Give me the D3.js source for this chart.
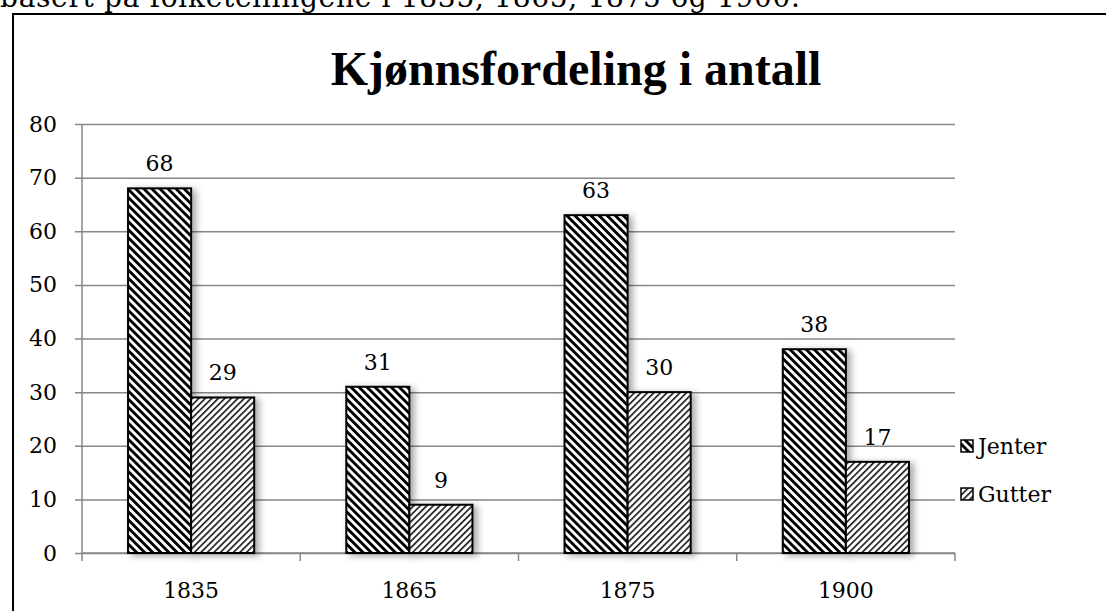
<!DOCTYPE html>
<html>
<head>
<meta charset="utf-8">
<script src="https://cdn.jsdelivr.net/npm/d3@7"></script>
<style>
  body { margin: 0; background: #fff; }
  text { font-family: "DejaVu Serif", "Liberation Serif", serif; fill: #000; }
</style>
</head>
<body>
<svg class="chart"></svg>
<script>
// data
const years = ['1835', '1865', '1875', '1900'];
const seriesNames = ['Jenter', 'Gutter'];
const jenter = [68, 31, 63, 38];
const gutter = [29, 9, 30, 17];
const yTicks = [0, 10, 20, 30, 40, 50, 60, 70, 80];

const width = 1106, height = 611;
const svg = d3.select('.chart')
  .attr('width', width)
  .attr('height', height);

const defs = svg.append('defs');

// striped fills
function stripes(id, angle, size, stroke, color) {
  const p = defs.append('pattern')
    .attr('id', id)
    .attr('patternUnits', 'userSpaceOnUse')
    .attr('width', size).attr('height', size)
    .attr('patternTransform', `rotate(${angle})`);
  p.append('rect').attr('width', size).attr('height', size).attr('fill', '#fff');
  p.append('rect').attr('width', stroke).attr('height', size).attr('fill', color);
}
stripes('pat-jenter', -45, 5.7, 2.9, '#000');
stripes('pat-gutter', 45, 4.6, 1.7, '#222');

const shadow = defs.append('filter').attr('id', 'shadow')
  .attr('x', '-20%').attr('y', '-20%').attr('width', '150%').attr('height', '150%');
shadow.append('feDropShadow')
  .attr('dx', 4).attr('dy', 2).attr('stdDeviation', 3.5)
  .attr('flood-color', '#000').attr('flood-opacity', 0.35);

const fills = { Jenter: 'url(#pat-jenter)', Gutter: 'url(#pat-gutter)' };

// text above the chart (cut off by the page top)
svg.append('text')
  .attr('x', 0).attr('y', 7)
  .attr('font-size', 28)
  .attr('textLength', 800)
  .attr('lengthAdjust', 'spacing')
  .text('basert på folketellingene i 1835, 1865, 1875 og 1900.');

// chart frame
svg.append('rect')
  .attr('x', 13).attr('y', 14)
  .attr('width', 1120).attr('height', 620)
  .attr('fill', '#fff')
  .attr('stroke', '#000').attr('stroke-width', 2);

svg.append('text')
  .attr('x', 576).attr('y', 85)
  .attr('text-anchor', 'middle')
  .style('font-family', '"Liberation Serif", serif')
  .style('font-size', '48px')
  .style('font-weight', 'bold')
  .text('Kjønnsfordeling i antall');

const margin = { left: 82, right: 955, top: 124, bottom: 553 };

const x0 = d3.scaleBand()
  .domain(years)
  .range([margin.left, margin.right])
  .paddingInner(0)
  .paddingOuter(0);

const x1 = d3.scaleBand()
  .domain(seriesNames)
  .range([0, x0.bandwidth()])
  .paddingInner(0)
  .paddingOuter(0.73);

const y = d3.scaleLinear()
  .domain([0, 80])
  .range([margin.bottom, margin.top]);

// gridlines + y axis
const yAxis = svg.append('g')
  .attr('transform', `translate(${margin.left},0)`)
  .call(d3.axisLeft(y).tickValues(yTicks)
    .tickSize(-(margin.right - margin.left)).tickSizeOuter(0).tickPadding(25));
yAxis.select('.domain').remove();
yAxis.selectAll('.tick line')
  .attr('x1', -7)
  .attr('stroke', '#878787').attr('stroke-width', 1.5);
yAxis.selectAll('.tick text')
  .attr('font-size', 22).attr('fill', '#000');
svg.append('line')
  .attr('x1', margin.left).attr('x2', margin.left)
  .attr('y1', margin.top).attr('y2', margin.bottom)
  .attr('stroke', '#878787').attr('stroke-width', 1.5);

// x axis
const xAxisG = svg.append('g')
  .attr('transform', `translate(0,${margin.bottom})`);
xAxisG.append('line')
  .attr('x1', margin.left).attr('x2', margin.right)
  .attr('stroke', '#878787').attr('stroke-width', 1.5);
xAxisG.selectAll('.xtick')
  .data(years.map(d => x0(d)).concat([margin.right]))
  .enter().append('line')
  .attr('x1', d => d).attr('x2', d => d)
  .attr('y1', 0).attr('y2', 8)
  .attr('stroke', '#878787').attr('stroke-width', 1.5);
xAxisG.selectAll('.xlabel')
  .data(years)
  .enter().append('text')
  .attr('x', d => x0(d) + x0.bandwidth() / 2)
  .attr('y', 45)
  .attr('text-anchor', 'middle')
  .attr('font-size', 22)
  .text(d => d);

// bars
const rows = years.map((yr, i) => ({
  year: yr,
  values: [
    { key: 'Jenter', value: jenter[i] },
    { key: 'Gutter', value: gutter[i] }
  ]
}));

const groups = svg.append('g').selectAll('g')
  .data(rows)
  .enter().append('g')
  .attr('transform', d => `translate(${x0(d.year)},0)`);

groups.selectAll('rect')
  .data(d => d.values)
  .enter().append('rect')
  .attr('x', d => x1(d.key))
  .attr('y', d => y(d.value))
  .attr('width', x1.bandwidth())
  .attr('height', d => y(0) - y(d.value))
  .attr('fill', d => fills[d.key])
  .attr('stroke', '#000')
  .attr('stroke-width', 2)
  .attr('filter', 'url(#shadow)');

groups.selectAll('text')
  .data(d => d.values)
  .enter().append('text')
  .attr('x', d => x1(d.key) + x1.bandwidth() / 2)
  .attr('y', d => y(d.value) - 17)
  .attr('text-anchor', 'middle')
  .attr('font-size', 22)
  .text(d => d.value);

// legend
const legend = svg.append('g')
  .attr('transform', 'translate(961,0)');
const items = legend.selectAll('g')
  .data(seriesNames)
  .enter().append('g')
  .attr('transform', (d, i) => `translate(0,${446 + i * 48})`);
items.append('rect')
  .attr('x', 0).attr('y', -6)
  .attr('width', 12).attr('height', 12)
  .attr('fill', d => fills[d])
  .attr('stroke', '#000').attr('stroke-width', 1.5);
items.append('text')
  .attr('x', 17).attr('y', 8)
  .attr('font-size', 22)
  .text(d => d);
</script>
</body>
</html>
